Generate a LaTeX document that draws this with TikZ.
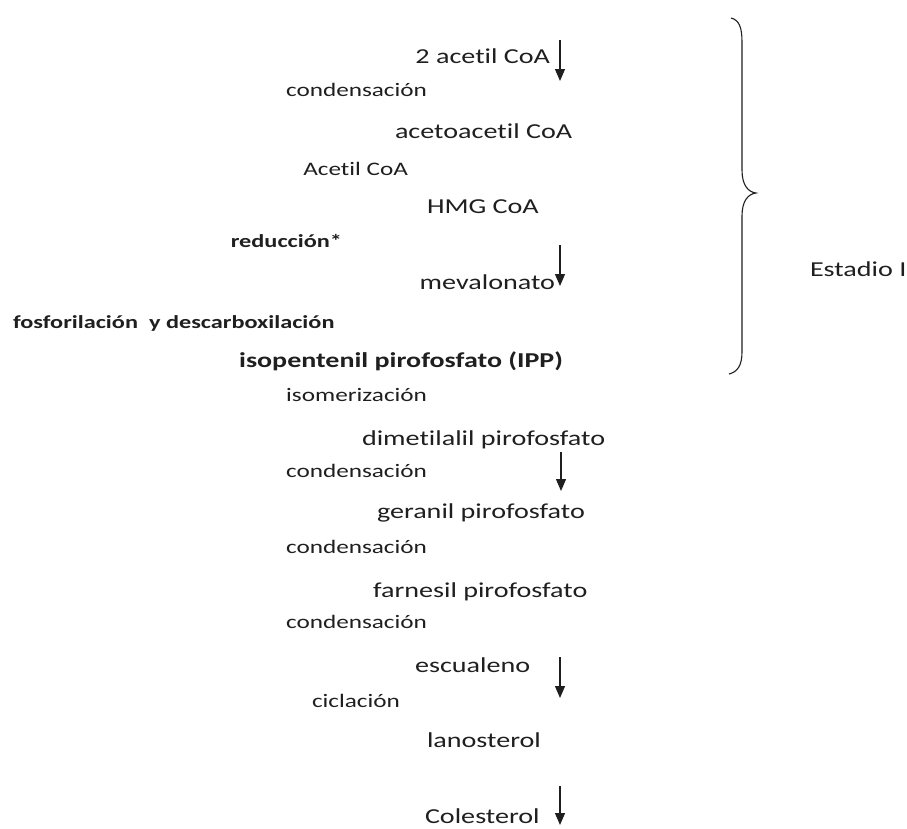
\documentclass[tikz,border=0pt]{standalone}
\usepackage{fontspec}
\setmainfont{Carlito}[FakeStretch=1.32,Ligatures=NoCommon]
\usetikzlibrary{arrows.meta}
\definecolor{ink}{HTML}{1F1F1F}
\begin{document}
\begin{tikzpicture}[x=1pt,y=-1pt,
  every node/.style={inner sep=0pt,outer sep=0pt,text=ink},
  compound/.style={font=\fontsize{21.3}{25}\selectfont},
  steplabel/.style={font=\fontsize{19.1}{23}\selectfont},
  boldlabel/.style={font=\fontsize{18.4}{22}\selectfont\bfseries},
  keycompound/.style={font=\fontsize{21.2}{25}\selectfont\bfseries},
  flow/.style={draw=ink,line width=1.25pt,-{Triangle[width=10pt,length=12pt]}}]
\useasboundingbox (0,0) rectangle (907,828);

% metabolites
\node[compound,anchor=base east] (acoa)  at (550,63)  {2 acetil CoA};
\node[compound,anchor=base west] (aacoa) at (395,138) {acetoacetil CoA};
\node[compound,anchor=base west] (hmg)   at (427,213) {HMG CoA};
\node[compound,anchor=base east] (mev)   at (555,289) {mevalonato};
\node[keycompound,anchor=base east] (ipp) at (563,367) {isopentenil pirofosfato (IPP)};
\node[compound,anchor=base west] (dmapp) at (362,445) {dimetilalil pirofosfato};
\node[compound,anchor=base west] (gpp)   at (377,518) {geranil pirofosfato};
\node[compound,anchor=base west] (fpp)   at (373,597) {farnesil pirofosfato};
\node[compound,anchor=base west] (esc)   at (415,672) {escualeno};
\node[compound,anchor=base west] (lan)   at (427,747) {lanosterol};
\node[compound,anchor=base west] (col)   at (425,823) {Colesterol};

% reaction steps
\node[steplabel,anchor=base east] (s1) at (427,96)  {condensación};
\node[steplabel,anchor=base east] (s2) at (408,175) {Acetil CoA};
\node[boldlabel,anchor=base east] (s3) at (342,247) {reducción*};
\node[boldlabel,anchor=base west] (s4) at (13,328)  {fosforilación\ \ y descarboxilación};
\node[steplabel,anchor=base east] (s5) at (427,401) {isomerización};
\node[steplabel,anchor=base east] (s6) at (427,477) {condensación};
\node[steplabel,anchor=base east] (s7) at (427,553) {condensación};
\node[steplabel,anchor=base east] (s8) at (427,628) {condensación};
\node[steplabel,anchor=base west] (s9) at (312,707) {ciclación};

% stage label
\node[compound,anchor=base west] (stage) at (810,276) {Estadio I};

% arrows
\coordinate (a1s) at (560,40);  \coordinate (a1e) at (560,81);
\coordinate (a2s) at (560,245); \coordinate (a2e) at (560,286);
\coordinate (a3s) at (561,452); \coordinate (a3e) at (561,491);
\coordinate (a4s) at (560,657); \coordinate (a4e) at (560,698);
\coordinate (a5s) at (560,786); \coordinate (a5e) at (560,825);
\draw[flow] (a1s) -- (a1e);
\draw[flow] (a2s) -- (a2e);
\draw[flow] (a3s) -- (a3e);
\draw[flow] (a4s) -- (a4e);
\draw[flow] (a5s) -- (a5e);

% brace grouping stage I
\coordinate (bt) at (731,18);
\coordinate (bm) at (756,193);
\coordinate (bb) at (729,374);
\draw[ink,line width=1.1pt]
  (bt) .. controls (739,20) and (742,27) .. (742,42) -- (742,170)
  .. controls (742,185) and (748,192) .. (bm)
  .. controls (748,194) and (742,201) .. (742,216) -- (742,352)
  .. controls (742,366) and (737,372) .. (bb);
\end{tikzpicture}
\end{document}
